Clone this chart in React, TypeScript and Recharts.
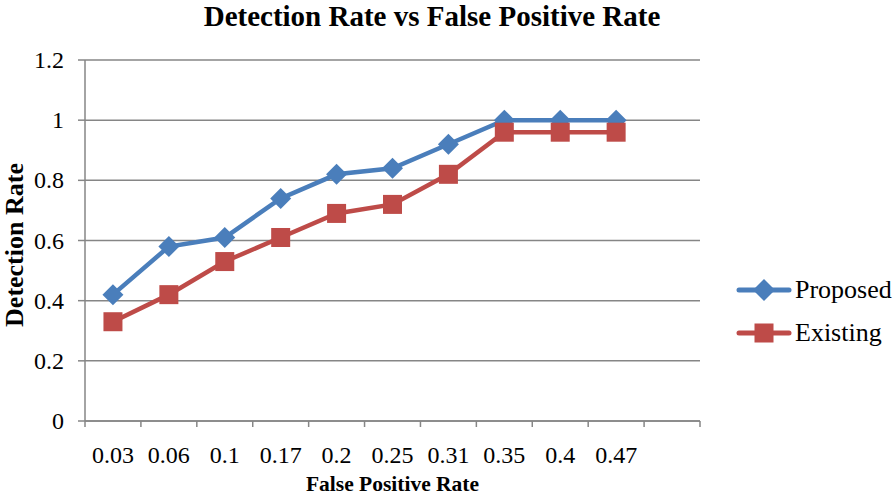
import { CartesianGrid, Line, LineChart, XAxis, YAxis } from 'recharts'

const fprLabels = ['0.03', '0.06', '0.1', '0.17', '0.2', '0.25', '0.31', '0.35', '0.4', '0.47', '']
const proposed = [0.42, 0.58, 0.61, 0.74, 0.82, 0.84, 0.92, 1, 1, 1, null]
const existing = [0.33, 0.42, 0.53, 0.61, 0.69, 0.72, 0.82, 0.96, 0.96, 0.96, null]
const yTicks = [0, 0.2, 0.4, 0.6, 0.8, 1, 1.2]

const data = fprLabels.map((fpr, i) => ({ fpr, proposed: proposed[i], existing: existing[i] }))

const BLUE = '#4a7ebb'
const RED = '#be4b48'
const AXIS = '#868686'
const FONT = "'Liberation Serif', 'Times New Roman', serif"

// plot area layout
const LEFT = 85
const TOP = 60
const PLOT_W = 615
const PLOT_H = 361
const HALF_BAND = PLOT_W / fprLabels.length / 2
const X_MARGIN = 24

function Diamond(props: any) {
  const { cx, cy } = props
  if (cx == null || cy == null) return <g key={props.index} />
  const r = 10.5
  return (
    <polygon
      key={props.index}
      points={`${cx},${cy - r} ${cx + r},${cy} ${cx},${cy + r} ${cx - r},${cy}`}
      fill={BLUE}
    />
  )
}

function Square(props: any) {
  const { cx, cy } = props
  if (cx == null || cy == null) return <g key={props.index} />
  const s = 9.5
  return <rect key={props.index} x={cx - s} y={cy - s} width={s * 2} height={s * 2} fill={RED} />
}

function XTick(props: any) {
  const { x, y, payload, index } = props
  const axisY = y - X_MARGIN
  const last = index === fprLabels.length - 1
  return (
    <g>
      <line x1={x - HALF_BAND} y1={axisY} x2={x - HALF_BAND} y2={axisY + 6} stroke={AXIS} strokeWidth={1.5} />
      {last && <line x1={x + HALF_BAND} y1={axisY} x2={x + HALF_BAND} y2={axisY + 6} stroke={AXIS} strokeWidth={1.5} />}
      <text x={x} y={axisY + 34} textAnchor='middle' dominantBaseline='central' fontFamily={FONT} fontSize={24} fill='#000'>
        {payload.value}
      </text>
    </g>
  )
}

function YTick(props: any) {
  const { x, y, payload } = props
  return (
    <text x={x} y={y} textAnchor='end' dominantBaseline='central' fontFamily={FONT} fontSize={24} fill='#000'>
      {payload.value}
    </text>
  )
}

function LegendBox() {
  const items = [
    { name: 'Proposed', color: BLUE, shape: 'diamond' },
    { name: 'Existing', color: RED, shape: 'square' },
  ]
  return (
    <div style={{ position: 'absolute', left: 736, top: 268, fontFamily: FONT, fontSize: 26, color: '#000' }}>
      {items.map((it) => (
        <div key={it.name} style={{ display: 'flex', alignItems: 'center', height: 43 }}>
          <svg width={56} height={24} style={{ marginRight: 3 }}>
            <line x1={3} y1={12} x2={53} y2={12} stroke={it.color} strokeWidth={5} strokeLinecap='round' />
            {it.shape === 'diamond' ? (
              <polygon points='28,1 39,12 28,23 17,12' fill={it.color} />
            ) : (
              <rect x={18.5} y={2.5} width={19} height={19} fill={it.color} />
            )}
          </svg>
          <span>{it.name}</span>
        </div>
      ))}
    </div>
  )
}

export default function App() {
  return (
    <div style={{ position: 'absolute', left: 0, top: 0, width: 894, height: 496, background: '#fff', fontFamily: FONT }}>
      <LineChart
        width={894}
        height={496}
        data={data}
        margin={{ top: TOP, right: 894 - LEFT - PLOT_W, bottom: 0, left: 0 }}
      >
        <CartesianGrid vertical={false} stroke={AXIS} strokeWidth={1.5} />
        <XAxis
          dataKey='fpr'
          scale='band'
          interval={0}
          stroke={AXIS}
          strokeWidth={1.5}
          tickLine={false}
          tickSize={0}
          tickMargin={X_MARGIN}
          tick={XTick}
          height={496 - TOP - PLOT_H}
        />
        <YAxis
          domain={[0, 1.2]}
          ticks={yTicks}
          width={LEFT}
          stroke={AXIS}
          strokeWidth={1.5}
          tickSize={7}
          tickMargin={14}
          tick={YTick}
        />
        <Line
          dataKey='proposed'
          stroke={BLUE}
          strokeWidth={4.5}
          dot={Diamond}
          activeDot={false}
          isAnimationActive={false}
        />
        <Line
          dataKey='existing'
          stroke={RED}
          strokeWidth={4.5}
          dot={Square}
          activeDot={false}
          isAnimationActive={false}
        />
      </LineChart>
      <div
        style={{
          position: 'absolute',
          left: 0,
          top: 0,
          width: 864,
          textAlign: 'center',
          fontSize: 29,
          lineHeight: '33px',
          fontWeight: 'bold',
        }}
      >
        Detection Rate vs False Positive Rate
      </div>
      <div
        style={{
          position: 'absolute',
          left: LEFT,
          width: PLOT_W,
          top: 472,
          textAlign: 'center',
          fontSize: 21.5,
          fontWeight: 'bold',
        }}
      >
        False Positive Rate
      </div>
      <div
        style={{
          position: 'absolute',
          left: 15,
          top: 245,
          transform: 'translate(-50%, -50%) rotate(-90deg)',
          whiteSpace: 'nowrap',
          fontSize: 26,
          lineHeight: '30px',
          fontWeight: 'bold',
        }}
      >
        Detection Rate
      </div>
      <LegendBox />
    </div>
  )
}
